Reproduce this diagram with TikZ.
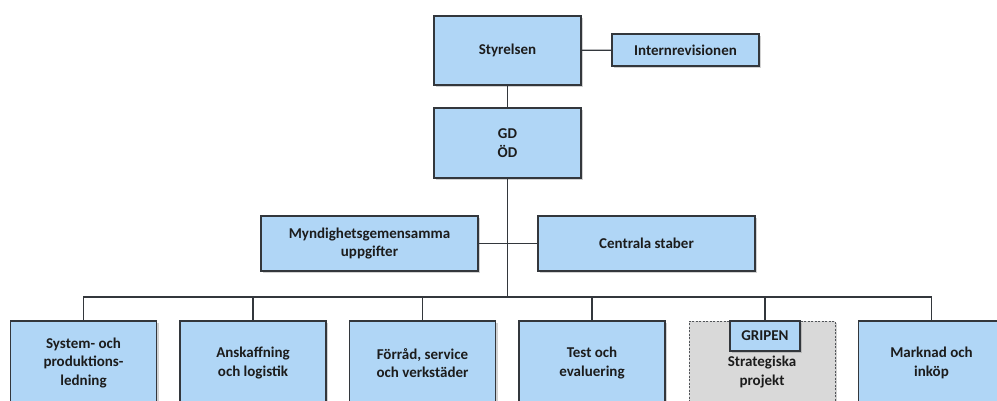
\documentclass[tikz,border=0pt]{standalone}
\usepackage{fontspec}
\setmainfont{Carlito}
\usetikzlibrary{shadows}
\definecolor{boxBlue}{HTML}{B0D6F6}
\definecolor{edge}{HTML}{33373C}
\definecolor{paleGray}{HTML}{D9D9D9}
\definecolor{ink}{HTML}{1C1C1C}

\begin{document}
\begin{tikzpicture}[x=1pt,y=-1pt,
  unit/.style={draw=edge, line width=1.2pt, fill=boxBlue, text=ink,
    font=\fontsize{15}{18.5}\selectfont\bfseries, align=center, inner sep=0pt,
    drop shadow={shadow xshift=2pt, shadow yshift=-2pt, opacity=0.35}},
  dept/.style={unit, minimum width=146pt, minimum height=84pt},
  wire/.style={draw=edge, line width=1.2pt}]
\clip (0,0) rectangle (997,401);
\fill[white] (0,0) rectangle (997,401);

% top of the tree
\node[unit, minimum width=147pt, minimum height=69pt] (styr) at (507.5,50.5) {Styrelsen};
\node[unit, minimum width=147pt, minimum height=32pt] (intrev) at (685.5,50) {Internrevisionen};
\node[unit, minimum width=147pt, minimum height=70pt] (gd) at (507.5,143) {GD\\ÖD};

% staff level
\node[unit, minimum width=217pt, minimum height=55pt] (mynd) at (369.5,243.5) {Myndighetsgemensamma\\uppgifter};
\node[unit, minimum width=217pt, minimum height=55pt] (stab) at (646.5,243.5) {Centrala staber};

% departments
\node[dept] (sys) at (83.5,363) {System- och\\produktions-\\ledning};
\node[dept] (ansk) at (253,363) {Anskaffning\\och logistik};
\node[dept] (forr) at (422.5,363) {Förråd, service\\och verkstäder};
\node[dept] (test) at (592,363) {Test och\\evaluering};
\node[dept, fill=paleGray, draw=edge!85, line width=0.9pt, dash pattern=on 2pt off 1.5pt,
  drop shadow={opacity=0}] (strat) at (762,363) {};
\node[font=\fontsize{15}{18.5}\selectfont\bfseries, text=ink, align=center] (proj) at (762,372) {Strategiska\\projekt};
\node[unit, minimum width=70pt, minimum height=30pt] (gripen) at (765,336) {GRIPEN};
\node[dept] (mark) at (931.5,363) {Marknad och\\inköp};

\coordinate (bus) at (507.5,297);

% connectors
\draw[wire] (styr) -- (intrev);
\draw[wire] (styr) -- (gd);
\draw[wire] (gd) -- (bus);
\draw[wire] (mynd) -- (stab);
\draw[wire] (sys.north) |- (bus) -| (mark.north);
\foreach \d in {ansk,forr,test,gripen}
  \draw[wire] (\d.north) -- (\d.north |- bus);
\end{tikzpicture}
\end{document}
